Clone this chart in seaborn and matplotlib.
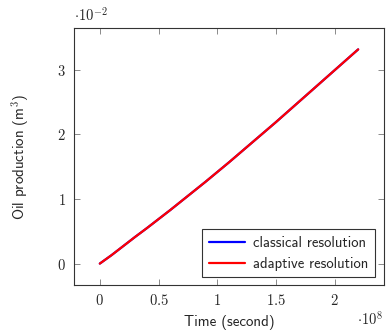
import numpy as np
import pandas as pd
import matplotlib
matplotlib.use("Agg")
import matplotlib.pyplot as plt
import seaborn as sns
from matplotlib.ticker import FixedLocator, FuncFormatter

# values (x in 1e8 s, y in 1e-2 m^3)
time_e8 = [0.0, 0.1, 0.2, 0.3, 0.4, 0.5, 0.6, 0.7, 0.8, 0.9, 1.0,
           1.1, 1.2, 1.3, 1.4, 1.5, 1.6, 1.7, 1.8, 1.9, 2.0, 2.1, 2.2]
classical = [0.01, 0.14, 0.28, 0.42, 0.555, 0.695, 0.835, 0.98, 1.125, 1.27, 1.42,
             1.57, 1.725, 1.88, 2.035, 2.19, 2.35, 2.51, 2.67, 2.83, 2.99, 3.15, 3.31]
adaptive = [0.01, 0.14, 0.28, 0.42, 0.555, 0.695, 0.835, 0.98, 1.125, 1.27, 1.42,
            1.57, 1.725, 1.88, 2.035, 2.19, 2.35, 2.51, 2.67, 2.83, 2.99, 3.15, 3.31]
series_names = ["classical resolution", "adaptive resolution"]
x_ticks = [0, 0.5, 1, 1.5, 2]
y_ticks = [0, 1, 2, 3]

sns.set_style("ticks")
plt.rcParams["mathtext.fontset"] = "cm"
plt.rcParams["font.family"] = ["cmss10", "DejaVu Sans"]
plt.rcParams["axes.unicode_minus"] = False

df = pd.DataFrame({
    "time": np.array(time_e8 * 2) * 1e8,
    "oil": np.array(classical + adaptive) * 1e-2,
    "run": [series_names[0]] * len(time_e8) + [series_names[1]] * len(time_e8),
})

fig = plt.figure(figsize=(3.86, 3.32), dpi=100)
ax = fig.add_axes([0.1917, 0.1416, 0.8031, 0.7741])

sns.lineplot(data=df, x="time", y="oil", hue="run", hue_order=series_names,
             palette=["#0000ff", "#ff0000"], linewidth=1.6, ax=ax)

# pgfplots-style 10% enlargement of the data range
xr = (max(time_e8) - min(time_e8)) * 1e8
ax.set_xlim(min(time_e8) * 1e8 - 0.1 * xr, max(time_e8) * 1e8 + 0.1 * xr)
yr = (max(classical) - min(classical)) * 1e-2
ax.set_ylim(min(classical) * 1e-2 - 0.1 * yr, max(classical) * 1e-2 + 0.1 * yr)

ax.xaxis.set_major_locator(FixedLocator([t * 1e8 for t in x_ticks]))
ax.yaxis.set_major_locator(FixedLocator([t * 1e-2 for t in y_ticks]))
ax.xaxis.set_major_formatter(FuncFormatter(lambda v, p: "$%g$" % round(v / 1e8, 3)))
ax.yaxis.set_major_formatter(FuncFormatter(lambda v, p: "$%g$" % round(v / 1e-2, 3)))

ax.tick_params(direction="in", length=4, width=0.6, color="#777777",
               top=True, right=True, labelsize=10.5, pad=6)
for s in ax.spines.values():
    s.set_linewidth(0.8)
    s.set_color("#333333")

ax.text(0.0, 1.015, r"$\cdot 10^{-2}$", transform=ax.transAxes,
        ha="left", va="bottom", fontsize=10.5)
ax.text(0.997, -0.095, r"$\cdot 10^{8}$", transform=ax.transAxes,
        ha="right", va="top", fontsize=10.5)

ax.set_xlabel("Time (second)", fontsize=10.8, labelpad=5)
ax.set_ylabel(r"Oil production (m$^{\mathsf{3}}$)", fontsize=10.8, labelpad=18)

leg = ax.legend(loc="lower right", bbox_to_anchor=(0.97, 0.03), fontsize=10.6,
                frameon=True, fancybox=False, edgecolor="black",
                handlelength=2.5, borderaxespad=0, borderpad=0.45,
                labelspacing=0.45, handletextpad=0.5)
leg.get_frame().set_linewidth(0.8)

fig.savefig("out.png", dpi=100)
